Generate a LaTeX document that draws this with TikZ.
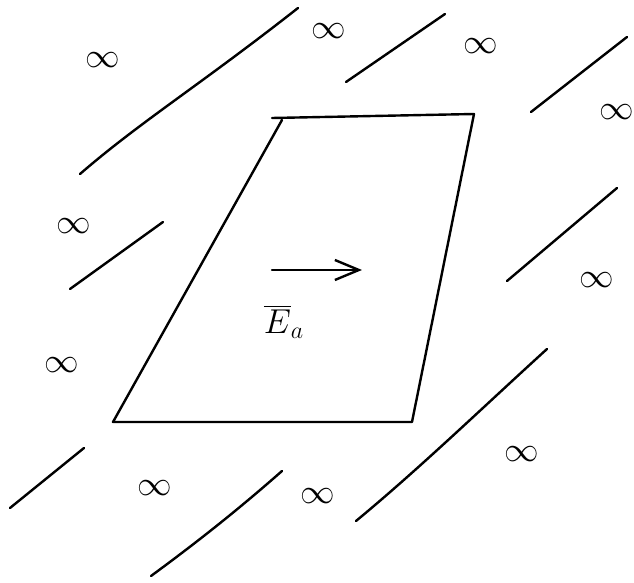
\documentclass[tikz,border=0pt]{standalone}
\usetikzlibrary{arrows.meta}
\begin{document}
\begin{tikzpicture}[x=0.5pt,y=-0.5pt,
  pen/.style={line width=1.2pt,line cap=round,line join=round},
  inf/.style={font=\LARGE,inner sep=0pt}]
\useasboundingbox (0,0) rectangle (634,583);

% the plate
\coordinate (tl) at (282,120);
\coordinate (tr) at (474,114);
\coordinate (br) at (412,422);
\coordinate (bl) at (113,422);
\draw[pen] (272,118) -- (tr) -- (br) -- (bl) -- (tl);

% field inside
\draw[pen,-{Straight Barb[length=12pt,width=10pt]}] (272,270) -- (362,270);
\node[font=\LARGE] (Ea) at (284,322) {$\overline{E}_{a}$};

% lines of the outside region
\draw[pen] (80,174) .. controls (140,122) and (200,85) .. (298,8);
\draw[pen] (70,289) -- (163,222);
\draw[pen] (346,82) -- (445,14);
\draw[pen] (531,112) -- (627,37);
\draw[pen] (507,281) -- (617,188);
\draw[pen] (356,521) .. controls (420,468) and (480,410) .. (547,349);
\draw[pen] (10,508) -- (84,448);
\draw[pen] (151,576) .. controls (200,540) and (240,508) .. (282,471);

% infinities
\node[inf] (i1) at (103,60) {$\infty$};
\node[inf] (i2) at (329,31) {$\infty$};
\node[inf] (i3) at (481,46) {$\infty$};
\node[inf] (i4) at (617,112) {$\infty$};
\node[inf] (i5) at (74,226) {$\infty$};
\node[inf] (i6) at (597,280) {$\infty$};
\node[inf] (i7) at (62,365) {$\infty$};
\node[inf] (i8) at (522,454) {$\infty$};
\node[inf] (i9) at (155,488) {$\infty$};
\node[inf] (i10) at (318,496) {$\infty$};
\end{tikzpicture}
\end{document}
